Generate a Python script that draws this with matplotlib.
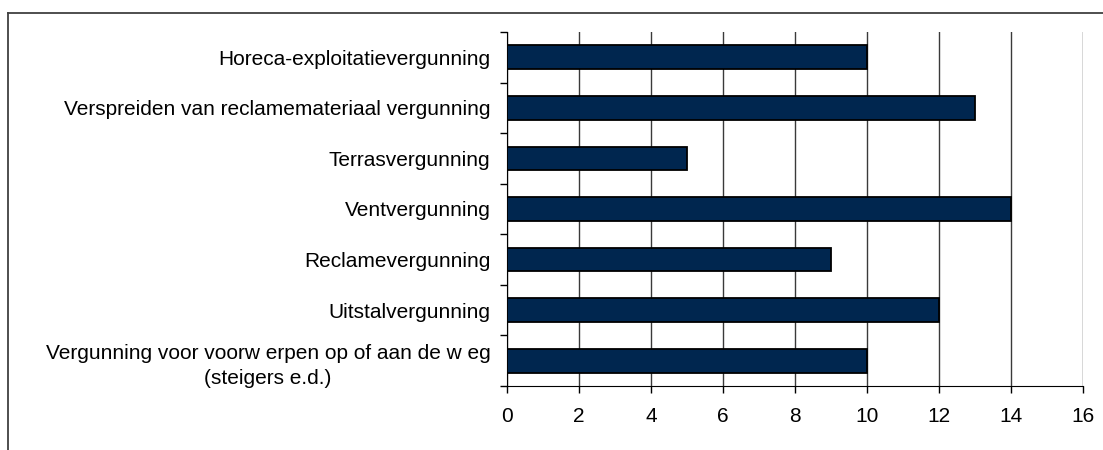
import matplotlib
matplotlib.use("Agg")
import matplotlib.pyplot as plt
import numpy as np
from matplotlib.lines import Line2D

categories = [
    "Horeca-exploitatievergunning",
    "Verspreiden van reclamemateriaal vergunning",
    "Terrasvergunning",
    "Ventvergunning",
    "Reclamevergunning",
    "Uitstalvergunning",
    "Vergunning voor voorw erpen op of aan de w eg\n(steigers e.d.)",
]
values = [10, 13, 5, 14, 9, 12, 10]
xticks = [0, 2, 4, 6, 8, 10, 12, 14, 16]

plt.rcParams['font.family'] = ['Liberation Sans', 'DejaVu Sans']

W, H = 1103, 450
fig = plt.figure(figsize=(W / 100, H / 100), dpi=100)
ax = fig.add_axes([507 / W, 1 - 386 / H, (1083 - 507) / W, (386 - 32) / H])

n = len(categories)
ypos = np.arange(n)[::-1] + 0.5
ax.barh(ypos, values, height=0.47, color='#00264f', edgecolor='black', linewidth=1.3, zorder=3)

ax.set_xlim(0, 16)
ax.set_ylim(0, n)
ax.set_xticks(xticks)
ax.set_xticklabels([str(t) for t in xticks], fontsize=15)
ax.xaxis.grid(True, color='#3a3a3a', linewidth=1, zorder=1)
ax.tick_params(axis='x', length=5, width=1, pad=10, color='black')

ax.set_yticks(ypos)
ax.set_yticklabels(categories, fontsize=15, multialignment='center', linespacing=1.4)
ax.tick_params(axis='y', which='major', length=0, pad=12)
ax.set_yticks(np.arange(n + 1), minor=True)
ax.tick_params(axis='y', which='minor', length=5, width=1, color='black')

for s in ['top', 'right']:
    ax.spines[s].set_visible(False)
ax.spines['left'].set_color('black')
ax.spines['bottom'].set_color('black')

# outer chart border (top and left visible)
fig.add_artist(Line2D([8 / W, 1], [1 - 12.5 / H, 1 - 12.5 / H], color='#404040', linewidth=1.3, transform=fig.transFigure))
fig.add_artist(Line2D([8 / W, 8 / W], [0, 1 - 12.5 / H], color='#404040', linewidth=1.3, transform=fig.transFigure))

fig.savefig("out.png", dpi=100)
